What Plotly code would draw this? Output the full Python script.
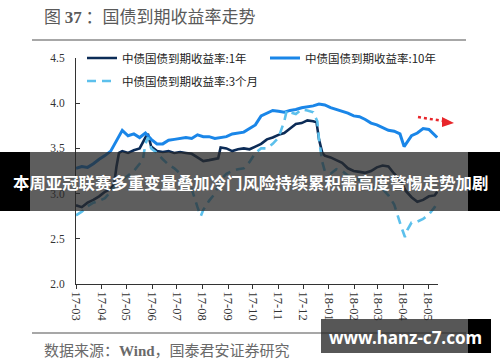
import plotly.graph_objects as go

# ---------------- data ----------------
dates_10y = ["2017-03-01","2017-03-08","2017-03-15","2017-03-22","2017-03-29","2017-04-05","2017-04-12","2017-04-19","2017-04-26",
             "2017-05-03","2017-05-10","2017-05-17","2017-05-24","2017-05-31","2017-06-07","2017-06-14","2017-06-21","2017-06-28",
             "2017-07-05","2017-07-12","2017-07-19","2017-07-26","2017-08-02","2017-08-09","2017-08-16","2017-08-23","2017-08-30",
             "2017-09-06","2017-09-13","2017-09-20","2017-09-27","2017-10-04","2017-10-11","2017-10-18","2017-10-25","2017-11-01",
             "2017-11-08","2017-11-15","2017-11-22","2017-11-29","2017-12-06","2017-12-13","2017-12-20","2017-12-27","2018-01-03",
             "2018-01-10","2018-01-17","2018-01-24","2018-01-31","2018-02-07","2018-02-14","2018-02-21","2018-02-28","2018-03-07",
             "2018-03-14","2018-03-21","2018-03-28","2018-04-02","2018-04-04","2018-04-11","2018-04-18","2018-04-25","2018-05-02",
             "2018-05-09","2018-05-12"]
yield_10y = [3.28,3.30,3.29,3.33,3.38,3.42,3.47,3.58,3.70,
             3.64,3.66,3.62,3.67,3.60,3.55,3.55,3.59,3.60,
             3.61,3.62,3.61,3.65,3.63,3.63,3.61,3.62,3.63,
             3.66,3.67,3.68,3.72,3.76,3.86,3.89,3.92,3.91,
             3.90,3.92,3.93,3.95,3.96,3.97,3.99,3.98,3.95,
             3.93,3.91,3.89,3.86,3.85,3.82,3.78,3.76,3.73,
             3.70,3.69,3.66,3.52,3.55,3.64,3.67,3.72,3.71,
             3.65,3.62]

dates_1y = ["2017-03-01","2017-03-08","2017-03-15","2017-03-22","2017-03-29","2017-04-05","2017-04-12","2017-04-16","2017-04-19",
            "2017-04-22","2017-04-26","2017-05-03","2017-05-10","2017-05-17","2017-05-24","2017-05-27","2017-05-31","2017-06-07",
            "2017-06-14","2017-06-21","2017-06-28","2017-07-05","2017-07-12","2017-07-19","2017-07-26","2017-08-02","2017-08-09",
            "2017-08-16","2017-08-20","2017-08-23","2017-08-30","2017-09-06","2017-09-13","2017-09-20","2017-09-27","2017-10-04",
            "2017-10-11","2017-10-18","2017-10-25","2017-11-01","2017-11-08","2017-11-15","2017-11-22","2017-11-29","2017-12-06",
            "2017-12-13","2017-12-17","2017-12-20","2017-12-24","2017-12-27","2018-01-03","2018-01-10","2018-01-17","2018-01-24",
            "2018-01-31","2018-02-07","2018-02-14","2018-02-21","2018-02-28","2018-03-07","2018-03-14","2018-03-21","2018-03-28",
            "2018-04-04","2018-04-11","2018-04-18","2018-04-25","2018-05-02","2018-05-09","2018-05-12"]
yield_1y = [2.87,2.85,2.90,2.93,2.97,3.02,3.05,3.10,3.30,
            3.45,3.47,3.45,3.48,3.50,3.62,3.66,3.52,3.47,
            3.46,3.47,3.45,3.46,3.45,3.44,3.40,3.36,3.37,
            3.38,3.39,3.51,3.50,3.47,3.49,3.50,3.49,3.52,
            3.55,3.60,3.62,3.65,3.67,3.72,3.77,3.78,3.81,
            3.80,3.79,3.60,3.45,3.42,3.40,3.37,3.34,3.28,
            3.25,3.24,3.23,3.25,3.29,3.31,3.30,3.22,3.15,
            3.03,2.96,2.91,2.93,2.97,2.98,3.02]

dates_3m = ["2017-03-01","2017-03-08","2017-03-15","2017-03-22","2017-03-29","2017-04-05","2017-04-12","2017-04-19","2017-04-26",
            "2017-05-03","2017-05-10","2017-05-17","2017-05-21","2017-05-24","2017-05-27","2017-05-31","2017-06-07","2017-06-14",
            "2017-06-21","2017-06-28","2017-07-05","2017-07-12","2017-07-19","2017-07-26","2017-07-30","2017-08-02","2017-08-09",
            "2017-08-16","2017-08-23","2017-08-30","2017-09-06","2017-09-13","2017-09-20","2017-09-27","2017-10-04","2017-10-11",
            "2017-10-18","2017-10-25","2017-11-01","2017-11-08","2017-11-11","2017-11-15","2017-11-22","2017-11-29","2017-12-06",
            "2017-12-13","2017-12-18","2017-12-20","2017-12-24","2017-12-27","2018-01-03","2018-01-10","2018-01-17","2018-01-24",
            "2018-01-31","2018-02-07","2018-02-14","2018-02-21","2018-02-28","2018-03-07","2018-03-14","2018-03-21","2018-03-25",
            "2018-03-30","2018-04-03","2018-04-06","2018-04-11","2018-04-18","2018-04-25","2018-05-02","2018-05-09","2018-05-12"]
yield_3m = [2.76,2.80,2.86,2.90,2.92,2.95,3.02,3.10,3.15,
            3.20,3.25,3.33,3.38,3.55,3.62,3.50,3.45,3.38,
            3.32,3.28,3.22,3.18,3.05,2.85,2.75,2.82,2.92,
            3.00,3.15,3.22,3.25,3.27,3.28,3.35,3.45,3.50,
            3.50,3.55,3.62,3.80,3.92,3.90,3.88,3.93,3.92,
            3.90,3.80,3.60,3.35,3.25,3.22,3.27,3.25,3.20,
            3.18,3.15,3.10,3.08,3.05,3.05,2.98,2.88,2.76,
            2.62,2.52,2.60,2.68,2.69,2.72,2.77,2.85,2.90]

series_names = ["中债国债到期收益率:1年", "中债国债到期收益率:10年", "中债国债到期收益率:3个月"]
tick_dates = ["2017-03-01","2017-04-01","2017-05-01","2017-06-01","2017-07-01","2017-08-01","2017-09-01","2017-10-01",
              "2017-11-01","2017-12-01","2018-01-01","2018-02-01","2018-03-01","2018-04-01","2018-05-01"]
tick_labels = ["17-03","17-04","17-05","17-06","17-07","17-08","17-09","17-10",
               "17-11","17-12","18-01","18-02","18-03","18-04","18-05"]
y_ticks = [2.0, 2.5, 3.0, 3.5, 4.0, 4.5]

# ---------------- layout helpers (pixel -> paper) ----------------
L, R, T, B = 76, 62, 58, 78
W, H = 500, 362
PW, PH = W - L - R, H - T - B
def px(x): return (x - L) / PW
def py(y): return (H - B - y) / PH

fig = go.Figure()
fig.add_trace(go.Scatter(x=dates_1y, y=yield_1y, name=series_names[0], mode="lines",
                         line=dict(color="#0c2c57", width=2.6), legend="legend"))
fig.add_trace(go.Scatter(x=dates_10y, y=yield_10y, name=series_names[1], mode="lines",
                         line=dict(color="#1a86e8", width=3), legend="legend3"))
fig.add_trace(go.Scatter(x=dates_3m, y=yield_3m, name=series_names[2], mode="lines",
                         line=dict(color="#5cc0ec", width=2.6, dash="9px,6px"), legend="legend2"))

legfont = dict(family="Noto Sans CJK SC", size=11.5, color="#222")
def leg(xp, yp):
    return dict(orientation="h", x=px(xp), y=py(yp), xanchor="left", yanchor="middle",
                font=legfont, bgcolor="rgba(0,0,0,0)", itemwidth=30)

shapes = [
    dict(type="line", xref="paper", yref="paper", x0=px(32), x1=px(466), y0=py(40), y1=py(40),
         line=dict(color="#8a8a8a", width=1.5)),
    dict(type="line", xref="paper", yref="paper", x0=px(32), x1=px(466), y0=py(333), y1=py(333),
         line=dict(color="#8a8a8a", width=1.5)),
    # red dotted arrow
    dict(type="line", xref="paper", yref="paper", x0=px(418), x1=px(443), y0=py(117), y1=py(121),
         line=dict(color="#e8262b", width=2.5, dash="dot")),
    dict(type="path", xref="paper", yref="paper",
         path=f"M {px(442)},{py(117)} L {px(454)},{py(123)} L {px(442)},{py(127)} Z",
         fillcolor="#e8262b", line=dict(width=0)),
    # overlay banner
    dict(type="rect", xref="paper", yref="paper", x0=px(30), x1=px(468), y0=py(211), y1=py(152),
         fillcolor="rgba(40,40,40,0.75)", line=dict(width=0), layer="above"),
    dict(type="rect", xref="paper", yref="paper", x0=px(0), x1=px(30), y0=py(211), y1=py(152),
         fillcolor="#000", line=dict(width=0), layer="above"),
    dict(type="rect", xref="paper", yref="paper", x0=px(468), x1=px(500), y0=py(211), y1=py(152),
         fillcolor="#000", line=dict(width=0), layer="above"),
    # watermark box
    dict(type="rect", xref="paper", yref="paper", x0=px(321), x1=px(468), y0=py(353), y1=py(319),
         fillcolor="rgba(40,40,40,0.78)", line=dict(width=0), layer="above"),
    dict(type="rect", xref="paper", yref="paper", x0=px(468), x1=px(491), y0=py(353), y1=py(319),
         fillcolor="#000", line=dict(width=0), layer="above"),
]

annotations = [
    dict(xref="paper", yref="paper", x=px(42), y=py(15), xanchor="left", yanchor="middle", showarrow=False,
         text='图 <span style="font-family:Liberation Serif"><b>37</b></span> ：国债到期收益率走势',
         font=dict(family="Noto Sans CJK SC", size=17, color="#5a5a5a")),
    dict(xref="paper", yref="paper", x=px(42), y=py(349), xanchor="left", yanchor="middle", showarrow=False,
         text='数据来源：<span style="font-family:Liberation Serif"><b>Wind</b></span>，国泰君安证券研究',
         font=dict(family="Noto Sans CJK SC", size=15, color="#6a6a6a")),
    dict(xref="paper", yref="paper", x=px(250), y=py(182), xanchor="center", yanchor="middle", showarrow=False,
         text="<b>本周亚冠联赛多重变量叠加冷门风险持续累积需高度警惕走势加剧</b>",
         font=dict(family="Noto Sans CJK SC", size=16.4, color="#ffffff")),
    dict(xref="paper", yref="paper", x=px(405), y=py(337), xanchor="center", yanchor="middle", showarrow=False,
         text="<b>www.hanz-c7.com</b>",
         font=dict(family="Noto Sans", size=17, color="#ffffff")),
]

fig.update_layout(
    width=W, height=H, margin=dict(l=L, r=R, t=T, b=B),
    paper_bgcolor="white", plot_bgcolor="white",
    showlegend=True,
    legend=leg(82, 58),
    legend3=leg(265, 58),
    legend2=leg(82, 81),
    xaxis=dict(type="date", range=["2017-03-01", "2018-05-13"], tickmode="array",
               tickvals=tick_dates, ticktext=tick_labels, tickangle=90,
               ticks="outside", ticklen=4, tickcolor="#333", showline=True, linecolor="#333",
               linewidth=1, showgrid=False, zeroline=False,
               tickfont=dict(family="Liberation Serif", size=12.5, color="#333")),
    yaxis=dict(range=[2.0, 4.5], tickmode="array", tickvals=y_ticks,
               ticktext=[f"{v:.1f}" for v in y_ticks],
               ticks="inside", ticklen=4, tickcolor="#333", showline=True, linecolor="#333",
               linewidth=1, showgrid=False, zeroline=False, ticklabelstandoff=8,
               tickfont=dict(family="Liberation Serif", size=11.5, color="#333")),
    shapes=shapes, annotations=annotations,
)

fig.write_html("out.html")
